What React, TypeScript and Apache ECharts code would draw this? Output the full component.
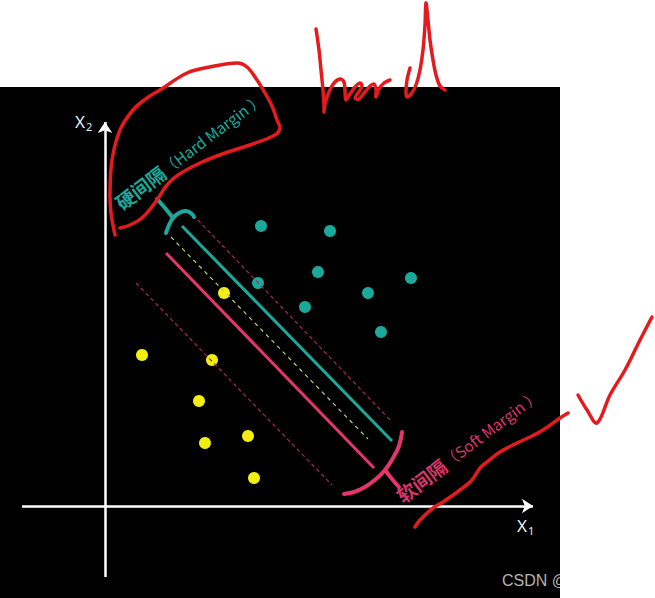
import React, { useEffect, useRef } from "react";
import * as echarts from "echarts";

// Data space: one unit = 10px; origin at the axes' crossing.
const tealPoints: number[][] = [
  [15.6, 28.0], [22.5, 27.5], [21.3, 23.4], [15.3, 22.3],
  [30.6, 22.8], [26.3, 21.3], [20.0, 19.9], [27.6, 17.4],
];
const yellowPoints: number[][] = [
  [11.9, 21.3], [3.7, 15.1], [10.7, 14.6], [9.4, 10.5],
  [10.0, 6.3], [14.3, 7.0], [14.9, 2.8],
];

const hardLine = [[7.7, 28.0], [28.7, 6.5]];
const softLine = [[6.1, 25.3], [26.9, 3.8]];
const centerLine = [[6.6, 26.9], [26.3, 6.7]];
const upperMarginLine = [[8.8, 29.1], [28.7, 8.4]];
const lowerMarginLine = [[3.1, 22.3], [22.7, 2.1]];

const xAxisLine = [[-8.3, 0], [42.8, 0]];
const yAxisLine = [[0, -7.1], [0, 38.4]];

const hardBraceArm = [[6.1, 27.3], [6.4, 28.1], [6.8, 28.8], [7.4, 29.3], [8.1, 29.5], [8.7, 29.2], [8.9, 28.9]];
const hardBraceStem = [[6.8, 28.8], [6.0, 29.8], [5.2, 30.7]];
const softBraceArm = [[29.7, 7.4], [29.4, 6.0], [28.8, 4.8], [28.0, 3.6], [27.1, 2.7], [26.0, 1.9], [24.9, 1.4], [23.9, 1.2]];
const softBraceStem = [[28.0, 3.6], [28.7, 2.7], [29.4, 1.9]];

const hardLabelAt = [1.8, 29.4];
const softLabelAt = [29.9, 0.1];
const x2LabelAt = [-3.0, 38.5];
const x1LabelAt = [41.2, -1.9];

const hardLabelCn = "硬间隔";
const hardLabelEn = "（Hard Margin ）";
const softLabelCn = "软间隔";
const softLabelEn = "（Soft Margin ）";

// hand-drawn red annotations
const lassoStroke = [
  [1.0, 27.1], [0.6, 29.3], [0.5, 31.3], [0.7, 34.6], [1.5, 37.6], [2.8, 39.6], [4.2, 40.8],
  [5.5, 41.6], [8.2, 43.3], [10.5, 43.9], [13.2, 44.3], [14.2, 43.9], [15.2, 42.6], [16.0, 41.3],
  [16.7, 40.0], [17.2, 38.6], [17.5, 37.8], [17.0, 37.1], [14.5, 36.1], [12.0, 35.3], [9.5, 34.3],
  [7.3, 33.1], [6.2, 32.1], [5.2, 30.6], [3.8, 28.9], [2.5, 28.1], [1.5, 27.8],
];
const scribbleHar = [
  [21.1, 47.7], [21.4, 45.6], [21.6, 43.6], [21.8, 41.6], [21.9, 40.1], [21.9, 39.4],
  [22.0, 40.2], [22.4, 41.4], [22.9, 42.3], [23.5, 42.7], [23.9, 42.4], [24.0, 41.4], [24.1, 40.6],
  [24.5, 41.2], [25.0, 41.9], [25.5, 42.3], [25.7, 42.0], [25.3, 41.3], [25.0, 40.8], [25.4, 40.7],
  [26.0, 41.4], [26.5, 42.0], [26.9, 42.2], [27.1, 41.6], [27.1, 40.9], [27.4, 41.7], [27.9, 42.3],
  [28.5, 42.6],
];
const scribbleD = [
  [30.5, 43.8], [30.2, 42.6], [30.1, 41.4], [30.2, 40.9], [30.6, 41.2], [31.1, 42.1], [31.5, 43.6],
  [31.8, 45.6], [32.0, 48.1], [32.1, 50.3], [32.3, 48.6], [32.5, 46.6], [32.8, 44.6], [33.1, 43.1],
  [33.5, 42.0], [34.0, 41.6],
];
const checkStroke = [[47.3, 11.1], [48.2, 9.6], [49.2, 8.3], [50.5, 11.1], [52.0, 13.6], [53.5, 16.6], [54.7, 18.9]];
const underlineStroke = [
  [46.3, 9.3], [45.5, 8.8], [43.8, 7.6], [42.5, 6.9], [41.2, 6.3], [39.5, 5.4], [38.2, 4.4],
  [37.5, 3.8], [36.7, 2.6], [35.5, 1.6], [33.8, 0.4], [32.8, -0.2], [31.5, -1.4], [31.0, -2.1],
];

const TEAL = "#1aa99b";
const PINK = "#e5356a";
const YELLOW = "#f3ee12";
const RED = "#e41b1d";

function strokeSeries(strokes: number[][][], color: string, width: number, smooth: number, z: number) {
  return {
    type: "custom",
    coordinateSystem: "cartesian2d",
    z,
    silent: true,
    data: strokes.map((s, i) => [s[0][0], s[0][1], i]),
    renderItem: (params: any, api: any) => {
      const s = strokes[api.value(2)];
      const pts = s.map((p) => api.coord(p));
      return {
        type: "polyline",
        shape: { points: pts, smooth },
        style: { stroke: color, lineWidth: width, fill: null, lineCap: "round", lineJoin: "round" },
      };
    },
  };
}

function labelSeries(
  items: { at: number[]; cn: string; en: string; color: string; rot: number }[],
  z: number
) {
  return {
    type: "custom",
    coordinateSystem: "cartesian2d",
    z,
    silent: true,
    data: items.map((it, i) => [it.at[0], it.at[1], i]),
    renderItem: (params: any, api: any) => {
      const it = items[api.value(2)];
      const p = api.coord(it.at);
      return {
        type: "text",
        x: p[0],
        y: p[1],
        rotation: (it.rot * Math.PI) / 180,
        style: {
          text: `{cn|${it.cn}}{en|${it.en}}`,
          align: "left",
          verticalAlign: "bottom",
          rich: {
            cn: { fill: it.color, fontSize: 19, fontWeight: "bold", fontFamily: "Noto Sans CJK SC" },
            en: { fill: it.color, fontSize: 15.5, fontFamily: "Noto Sans CJK SC" },
          },
        },
      };
    },
  };
}

function axisLabelSeries(items: { at: number[]; main: string; sub: string }[], z: number) {
  return {
    type: "custom",
    coordinateSystem: "cartesian2d",
    z,
    silent: true,
    data: items.map((it, i) => [it.at[0], it.at[1], i]),
    renderItem: (params: any, api: any) => {
      const it = items[api.value(2)];
      const p = api.coord(it.at);
      return {
        type: "text",
        x: p[0],
        y: p[1],
        style: {
          text: `{m|${it.main}}{s|${it.sub}}`,
          align: "left",
          verticalAlign: "middle",
          rich: {
            m: { fill: "#eeeeee", fontSize: 17, fontFamily: "Noto Sans" },
            s: { fill: "#eeeeee", fontSize: 11, fontFamily: "Noto Sans", padding: [10, 0, 0, 1] },
          },
        },
      };
    },
  };
}

export default function App() {
  const ref = useRef<HTMLDivElement>(null);
  useEffect(() => {
    if (!ref.current) return;
    const chart = echarts.init(ref.current, undefined, { renderer: "svg" });
    chart.setOption({
      animation: false,
      backgroundColor: "#ffffff",
      grid: { left: 0, right: 0, top: 0, bottom: 0 },
      xAxis: { type: "value", min: -10.5, max: 55, show: false },
      yAxis: { type: "value", min: -9.2, max: 50.6, show: false },
      graphic: [
        { type: "rect", z: 0, silent: true, shape: { x: 0, y: 87, width: 560, height: 511 }, style: { fill: "#000" } },
        {
          type: "text", z: 1, silent: true, x: 502, y: 580,
          style: { text: "CSDN @", fill: "#b4b4b4", font: '16px "Liberation Sans", Arial, sans-serif', verticalAlign: "middle" },
        },
        { type: "rect", z: 2, silent: true, shape: { x: 560, y: 560, width: 80, height: 38 }, style: { fill: "#fff" } },
      ],
      series: [
        {
          type: "lines",
          coordinateSystem: "cartesian2d",
          z: 3,
          silent: true,
          symbol: ["none", "arrow"],
          symbolSize: [9, 11],
          lineStyle: { color: "#ffffff", width: 2.5, opacity: 1 },
          data: [{ coords: xAxisLine }, { coords: yAxisLine }],
        },
        {
          type: "scatter",
          z: 4,
          silent: true,
          symbolSize: 12,
          itemStyle: { color: TEAL, opacity: 1 },
          data: tealPoints,
        },
        {
          type: "scatter",
          z: 4,
          silent: true,
          symbolSize: 12,
          itemStyle: { color: YELLOW, opacity: 1 },
          data: yellowPoints,
        },
        {
          type: "lines",
          coordinateSystem: "cartesian2d",
          z: 5,
          silent: true,
          symbol: "none",
          lineStyle: { opacity: 1 },
          data: [
            { coords: upperMarginLine, lineStyle: { color: "#a8285a", width: 1.2, type: [4, 3], opacity: 1 } },
            { coords: lowerMarginLine, lineStyle: { color: "#a8285a", width: 1.2, type: [4, 3], opacity: 1 } },
            { coords: centerLine, lineStyle: { color: "#b9d66a", width: 1.2, type: [4, 4], opacity: 1 } },
            { coords: hardLine, lineStyle: { color: TEAL, width: 3, type: "solid", opacity: 1 } },
            { coords: softLine, lineStyle: { color: PINK, width: 3, type: "solid", opacity: 1 } },
          ],
        },
        strokeSeries([hardBraceArm, hardBraceStem], TEAL, 4, 0.4, 6),
        strokeSeries([softBraceArm, softBraceStem], PINK, 4, 0.4, 6),
        labelSeries(
          [
            { at: hardLabelAt, cn: hardLabelCn, en: hardLabelEn, color: TEAL, rot: 37 },
            { at: softLabelAt, cn: softLabelCn, en: softLabelEn, color: "#dd3468", rot: 37 },
          ],
          7
        ),
        axisLabelSeries(
          [
            { at: x2LabelAt, main: "X", sub: "2" },
            { at: x1LabelAt, main: "X", sub: "1" },
          ],
          7
        ),
        strokeSeries([lassoStroke, scribbleHar, scribbleD, checkStroke, underlineStroke], RED, 3.5, 0.35, 10),
      ],
    });
    return () => chart.dispose();
  }, []);
  return (
    <div
      ref={ref}
      style={{ position: "fixed", left: 0, top: 0, width: 655, height: 598 }}
    />
  );
}
